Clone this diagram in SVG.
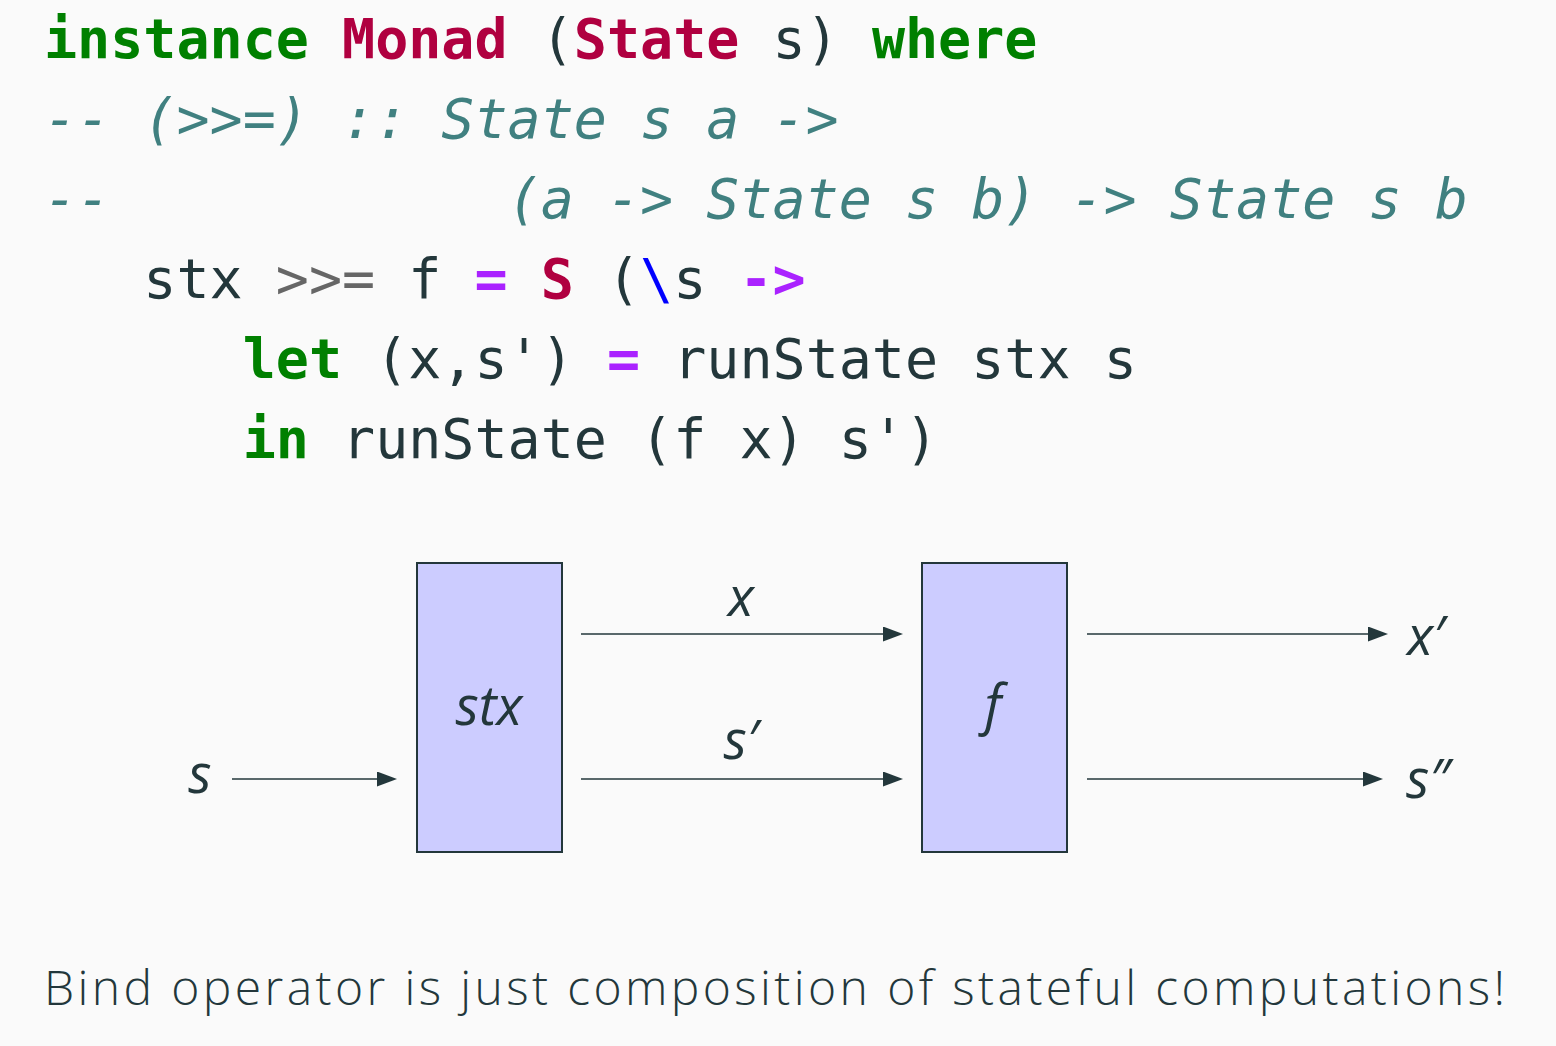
<svg xmlns="http://www.w3.org/2000/svg" width="1556" height="1046" viewBox="0 0 1556 1046">
<defs>
<style>
.code{font-family:"DejaVu Sans Mono","Liberation Mono",monospace;font-size:55px;fill:#23373b;white-space:pre}
.kw{fill:#008000;font-weight:bold}
.ty{fill:#b00040;font-weight:bold}
.cm{fill:#408080;font-style:italic}
.op{fill:#aa22ff;font-weight:bold}
.gr{fill:#666666}
.bl{fill:#0000ff}
.box{fill:#ccccff;stroke:#23373b;stroke-width:2}
.lbl{font-family:"Open Sans","Noto Sans",sans-serif;font-style:italic;font-size:54px;fill:#23373b;text-anchor:middle}
.edge{stroke:#23373b;stroke-width:1.6;fill:none}
.cap{font-family:"Open Sans","Noto Sans",sans-serif;font-weight:300;font-size:48px;fill:#23373b}
</style>
<marker id="ah" markerUnits="userSpaceOnUse" markerWidth="20" markerHeight="16" refX="10" refY="7.5" orient="auto">
<path d="M0,0 L20,7.5 L0,15 z" fill="#23373b"/>
</marker>
</defs>
<rect x="0" y="0" width="1556" height="1046" fill="#fafafa"/>
<g id="code">
<text class="code" x="44" y="58"><tspan class="kw">instance</tspan> <tspan class="ty">Monad</tspan> (<tspan class="ty">State</tspan> s) <tspan class="kw">where</tspan></text>
<text class="code cm" x="44" y="138">-- (&gt;&gt;=) :: State s a -&gt;</text>
<text class="code cm" x="44" y="218">--            (a -&gt; State s b) -&gt; State s b</text>
<text class="code" x="44" y="298">   stx <tspan class="gr">&gt;&gt;=</tspan> f <tspan class="op">=</tspan> <tspan class="ty">S</tspan> (<tspan class="bl">\</tspan>s <tspan class="op">-&gt;</tspan></text>
<text class="code" x="44" y="378">      <tspan class="kw">let</tspan> (x,s') <tspan class="op">=</tspan> runState stx s</text>
<text class="code" x="44" y="458">      <tspan class="kw">in</tspan> runState (f x) s')</text>
</g>
<g id="connectors">
<line class="edge" x1="232" y1="779" x2="387" y2="779" marker-end="url(#ah)"/>
<line class="edge" x1="581" y1="634" x2="893" y2="634" marker-end="url(#ah)"/>
<line class="edge" x1="581" y1="779" x2="893" y2="779" marker-end="url(#ah)"/>
<line class="edge" x1="1087" y1="634" x2="1378" y2="634" marker-end="url(#ah)"/>
<line class="edge" x1="1087" y1="779" x2="1373" y2="779" marker-end="url(#ah)"/>
<text class="lbl" x="200" y="793">s</text>
<text class="lbl" x="741" y="616">x</text>
<text class="lbl" x="741" y="759">s′</text>
<text class="lbl" x="1426" y="655">x′</text>
<text class="lbl" x="1428" y="798">s″</text>
</g>
<g id="stx">
<rect class="box" x="417" y="563" width="145" height="289"/>
<text class="lbl" x="489" y="725">stx</text>
</g>
<g id="f">
<rect class="box" x="922" y="563" width="145" height="289"/>
<text class="lbl" x="993" y="724">f</text>
</g>
<text class="cap" x="44" y="1005" textLength="1461" lengthAdjust="spacing">Bind operator is just composition of stateful computations!</text>
</svg>
